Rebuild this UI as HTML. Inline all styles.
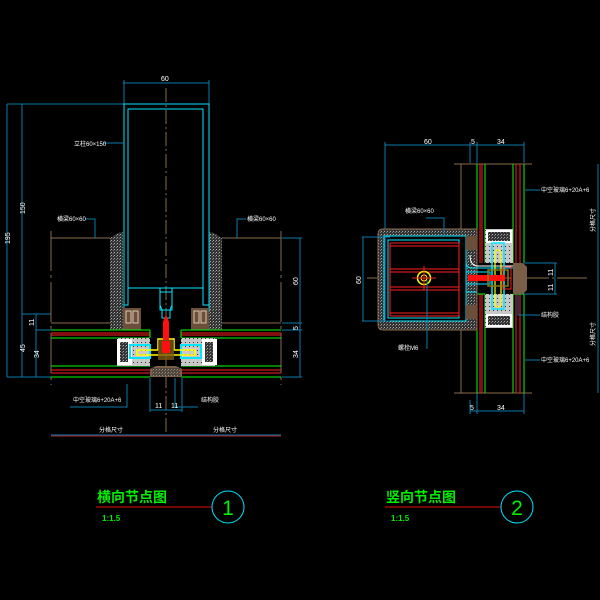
<!DOCTYPE html>
<html><head><meta charset="utf-8"><style>
html,body{margin:0;padding:0;background:#000;width:600px;height:600px;overflow:hidden}
svg{display:block}
.t{font-family:"Liberation Sans","Noto Sans CJK SC",sans-serif;fill:#fff;font-size:6px}
.d{stroke:#0a7aa8;stroke-width:1;fill:none}
.dt{font-family:"Liberation Sans",sans-serif;fill:#fff;font-size:7px}
</style></head><body>
<svg width="600" height="600" viewBox="0 0 600 600" xmlns="http://www.w3.org/2000/svg">
<defs>
<pattern id="hat" width="3" height="3" patternUnits="userSpaceOnUse"><rect width="3" height="3" fill="#333"/><rect width="1" height="1" fill="#aaa"/><rect x="2" y="1" width="1" height="1" fill="#777"/></pattern>
<pattern id="gr" width="4" height="4" patternUnits="userSpaceOnUse"><rect width="4" height="4" fill="#c8c8c8"/><rect x="1" y="2" width="1" height="1" fill="#333"/></pattern>
</defs>

<!-- ===== LEFT DRAWING ===== -->
<!-- center line -->
<line x1="166" y1="88" x2="166" y2="435" stroke="#8a6a4a" stroke-dasharray="14,3,2,3"/>
<!-- top dim 60 -->
<line class="d" x1="123" y1="83" x2="209" y2="83"/><line class="d" x1="124" y1="80" x2="124" y2="104"/><line class="d" x1="209" y1="80" x2="209" y2="104"/>
<text class="dt" x="161" y="81">60</text>
<!-- left dims -->
<line class="d" x1="7" y1="104" x2="124" y2="104"/>
<line class="d" x1="7" y1="104" x2="7" y2="377"/><line class="d" x1="22" y1="104" x2="22" y2="377"/>
<line class="d" x1="36" y1="314" x2="36" y2="377"/>
<line class="d" x1="7" y1="377" x2="51" y2="377"/><line class="d" x1="22" y1="314" x2="51" y2="314"/><line class="d" x1="36" y1="330" x2="51" y2="330"/>
<text class="dt" transform="translate(10,244) rotate(-90)">195</text>
<text class="dt" transform="translate(25,214) rotate(-90)">150</text>
<text class="dt" transform="translate(34,326) rotate(-90)">11</text>
<text class="dt" transform="translate(25,352) rotate(-90)">45</text>
<text class="dt" transform="translate(39,358) rotate(-90)">34</text>
<!-- right dims -->
<line class="d" x1="282" y1="238" x2="302" y2="238"/><line class="d" x1="282" y1="323" x2="302" y2="323"/><line class="d" x1="282" y1="330" x2="302" y2="330"/><line class="d" x1="282" y1="377" x2="302" y2="377"/>
<line class="d" x1="300" y1="238" x2="300" y2="377"/>
<text class="dt" transform="translate(298,285) rotate(-90)">60</text>
<text class="dt" transform="translate(298,330) rotate(-90)">5</text>
<text class="dt" transform="translate(298,358) rotate(-90)">34</text>
<!-- beams brown -->
<path d="M51,231 V385 M281,231 V385" stroke="#8a6a4a" stroke-dasharray="40,4,3,4" fill="none"/>
<path d="M51,238 H110 M222,238 H281 M51,323 H110 M222,323 H281" stroke="#8a6a4a" fill="none"/>
<!-- insulation -->
<path d="M110,238 L118,233 L123,232 V330 H110 Z" fill="url(#hat)"/>
<path d="M222,238 L214,233 L209,232 V330 H222 Z" fill="url(#hat)"/>
<!-- mullion -->
<path d="M124,104 H209 V305 H203 V288 H172 V305 L170,310 V318 H162 V310 L160,305 V288 H128 V305 H124 Z" stroke="#00e5ff" fill="none"/>
<rect x="128" y="109" width="75" height="179" stroke="#00e5ff" fill="none"/>
<rect x="160" y="292" width="12" height="18" stroke="#00e5ff" fill="none"/>
<path d="M124,305 V312 M209,305 V312" stroke="#00e5ff"/>
<!-- gaskets -->
<rect x="123" y="308" width="18" height="22" fill="#6b4f3a"/><rect x="126" y="311" width="5" height="12" fill="none" stroke="#d8c8b0"/><rect x="133" y="311" width="5" height="12" fill="none" stroke="#d8c8b0"/>
<rect x="191" y="308" width="18" height="22" fill="#6b4f3a"/><rect x="194" y="311" width="5" height="12" fill="none" stroke="#d8c8b0"/><rect x="201" y="311" width="5" height="12" fill="none" stroke="#d8c8b0"/>
<!-- glass -->
<g fill="none">
<path d="M51,330 H150 M181,330 H281 M51,338 H150 M181,338 H281 M51,366 H150 M181,366 H281 M51,377 H150 M181,377 H281" stroke="#00ff00"/>
<path d="M51,333 H150 M181,333 H281 M51,335 H150 M181,335 H281 M51,370 H150 M181,370 H281 M51,373 H150 M181,373 H281" stroke="#ff2020"/>
<path d="M150,330 V338 M181,330 V338" stroke="#00ff00"/>
</g>
<!-- spacers -->
<rect x="117" y="338" width="33" height="28" fill="url(#gr)"/><rect x="181" y="338" width="34" height="28" fill="url(#gr)"/>
<rect x="117" y="339" width="15" height="26" fill="#fff"/><rect x="120" y="342" width="8" height="20" fill="url(#hat)"/>
<rect x="202" y="339" width="15" height="26" fill="#fff"/><rect x="205" y="342" width="8" height="20" fill="url(#hat)"/>
<rect x="130" y="345" width="20" height="13" fill="none" stroke="#00e5ff" stroke-width="2"/><rect x="181" y="345" width="20" height="13" fill="none" stroke="#00e5ff" stroke-width="2"/>
<path d="M137,350 H158 V339 H174 V350 H195 V355 H137 Z" fill="none" stroke="#ffff00" stroke-width="1.5"/>
<!-- red bolt -->
<path d="M163,340 V322 L166,314 L169,322 V340 Z" fill="#ff1010"/>
<rect x="158" y="340" width="16" height="20" fill="#7a5a10" opacity="0.8"/><rect x="162" y="341" width="8" height="12" fill="#ff1010"/>
<path d="M150,377 V369 L156,366 H176 L182,369 V377 Z" fill="#7a5f48"/>
<rect x="152" y="368" width="28" height="8" fill="url(#hat)" opacity="0.6"/>
<!-- bottom dims -->
<path class="d" d="M127,384 V407 H70 M150,378 V412 M182,378 V412 M175,378 V407 H198 M150,410 H182"/>
<text class="dt" x="155" y="408">11</text><text class="dt" x="171" y="408">11</text>
<line x1="51" y1="435" x2="281" y2="435" stroke="#0a7aa8"/>
<line x1="51" y1="436" x2="281" y2="436" stroke="#b02020"/>
<text class="t" x="99" y="432">分格尺寸</text><text class="t" x="213" y="432">分格尺寸</text>
<text class="t" x="73" y="402">中空玻璃6+20A+6</text><text class="t" x="201" y="402">结构胶</text>
<!-- leaders -->
<path class="d" d="M103,143 H124"/><text class="t" x="74" y="146">立柱60×150</text>
<path class="d" d="M85,219 H95 V238"/><text class="t" x="57" y="221">横梁60×60</text>
<path class="d" d="M246,219 H237 V238"/><text class="t" x="247" y="221">横梁60×60</text>

<!-- ===== RIGHT DRAWING ===== -->
<line x1="367" y1="278" x2="590" y2="278" stroke="#8a6a4a" stroke-dasharray="30,3,2,3"/>
<!-- top dims -->
<path class="d" d="M385,145 H524 M385,142 V237 M470,142 V163 M477,142 V163 M524,142 V163"/>
<text class="dt" x="424" y="144">60</text><text class="dt" x="471" y="144">5</text><text class="dt" x="497" y="144">34</text>
<path class="d" d="M470,400 V414 M477,393 V414 M524,393 V414 M470,411 H524"/>
<text class="dt" x="470" y="410">5</text><text class="dt" x="497" y="410">34</text>
<!-- brown lines -->
<path d="M454,164 H532 M454,393 H532 M461,164 V393" stroke="#8a6a4a" fill="none"/>
<!-- glass -->
<g fill="none">
<path d="M477,164 V263 M485,164 V263 M477,294 V393 M485,294 V393 M513,164 V263 M524,164 V263 M513,294 V393 M524,294 V393" stroke="#00ff00"/>
<path d="M480,164 V263 M482,164 V263 M480,294 V393 M482,294 V393 M516,164 V263 M520,164 V263 M516,294 V393 M520,294 V393" stroke="#ff2020"/>
<path d="M477,294 H485 M513,294 H524" stroke="#00ff00"/>
</g>
<!-- beam -->
<path d="M383,229 H477 V330 H383 Q378,330 378,325 V234 Q378,229 383,229 Z" fill="url(#hat)" stroke="#8a6a4a"/>
<path d="M384,236 H466 V321 H384 Z" fill="#000" stroke="#00e5ff"/>
<rect x="388" y="240" width="71" height="78" fill="none" stroke="#00e5ff"/>
<path d="M390,243 H459 M390,246 H459 M390,269 H459 M390,272 H459 M390,287 H459 M390,290 H459 M390,313 H459 M390,316 H459" stroke="#ff2020"/>
<path d="M390,243 V316 M459,243 V316" stroke="#ff2020"/>
<circle cx="424" cy="278" r="6.5" fill="none" stroke="#ffff00" stroke-width="1.5"/>
<circle cx="424" cy="278" r="3" fill="none" stroke="#ffff00"/>
<path d="M424,266 V290 M412,278 H436" stroke="#ff2020"/>
<!-- gaskets -->
<rect x="466" y="236" width="11" height="14" fill="#6b4f3a"/><rect x="466" y="305" width="11" height="14" fill="#6b4f3a"/>
<path d="M466,250 V262 Q466,268 472,268 H513 M466,305 V292 H477" stroke="#00e5ff" fill="none"/>
<path d="M470,255 Q470,266 478,266 H513" stroke="#fff" fill="none"/>
<!-- spacers -->
<rect x="485" y="229" width="28" height="34" fill="url(#gr)"/><rect x="485" y="294" width="28" height="34" fill="url(#gr)"/>
<rect x="486" y="230" width="26" height="13" fill="#fff"/><rect x="488" y="232" width="22" height="9" fill="url(#hat)"/>
<rect x="486" y="314" width="26" height="13" fill="#fff"/><rect x="488" y="316" width="22" height="9" fill="url(#hat)"/>
<rect x="492" y="243" width="12" height="66" fill="none" stroke="#00e5ff" stroke-width="1.5"/>
<rect x="495" y="250" width="6" height="57" rx="3" fill="none" stroke="#ffff00" stroke-width="1.2"/>
<!-- bolt -->
<path d="M466,272 H490 V284 H466 Z" fill="none" stroke="#00e5ff"/>
<path d="M468,275 H505 V281 H468 Z" fill="#ff1010"/>
<rect x="488" y="270" width="20" height="16" fill="none" stroke="#8a7a10" stroke-width="1.5"/>
<rect x="503" y="267" width="8" height="22" fill="none" stroke="#ff2020"/>
<path d="M513,263 H523 L527,267 V290 L523,294 H513 Z" fill="#7a5f48"/>
<!-- right dims -->
<path class="d" d="M524,263 H557 M524,294 H557 M555,263 V294"/>
<text class="dt" transform="translate(553,276) rotate(-90)">11</text>
<text class="dt" transform="translate(553,291) rotate(-90)">11</text>
<line x1="598" y1="164" x2="598" y2="393" stroke="#0a7aa8"/>
<text class="t" transform="translate(595,232) rotate(-90)">分格尺寸</text>
<text class="t" transform="translate(595,346) rotate(-90)">分格尺寸</text>
<!-- leaders -->
<path class="d" d="M525,190 H540 M525,360 H540 M518,294 V315 H540 M426,218 H444 V236 M426,348 H427 V280"/>
<text class="t" x="541" y="192">中空玻璃6+20A+6</text>
<text class="t" x="541" y="362">中空玻璃6+20A+6</text>
<text class="t" x="541" y="317">结构胶</text>
<text class="t" x="405" y="213">横梁60×60</text>
<text class="t" x="398" y="350">螺栓M6</text>
<path class="d" d="M385,237 V321 M362,237 H390 M362,321 H390 M363,237 V321"/>
<text class="dt" transform="translate(361,284) rotate(-90)">60</text>

<!-- ===== TITLES ===== -->
<g font-family="Liberation Sans,'Noto Sans CJK SC',sans-serif" font-weight="bold" fill="#00ee00">
<text x="97" y="502" font-size="14">横向节点图</text>
<text x="386" y="502" font-size="14">竖向节点图</text>
<text x="102" y="521" font-size="8">1:1.5</text>
<text x="391" y="521" font-size="8">1:1.5</text>
</g>
<line x1="96" y1="507" x2="212" y2="507" stroke="#e01010"/>
<line x1="385" y1="507" x2="501" y2="507" stroke="#e01010"/>
<circle cx="228" cy="507" r="16" fill="none" stroke="#00e5ff"/>
<circle cx="517" cy="507" r="16" fill="none" stroke="#00e5ff"/>
<text x="228" y="515" font-size="21" text-anchor="middle" fill="#00ee00" font-family="Liberation Sans,sans-serif">1</text>
<text x="517" y="515" font-size="21" text-anchor="middle" fill="#00ee00" font-family="Liberation Sans,sans-serif">2</text>
</svg>
</body></html>
